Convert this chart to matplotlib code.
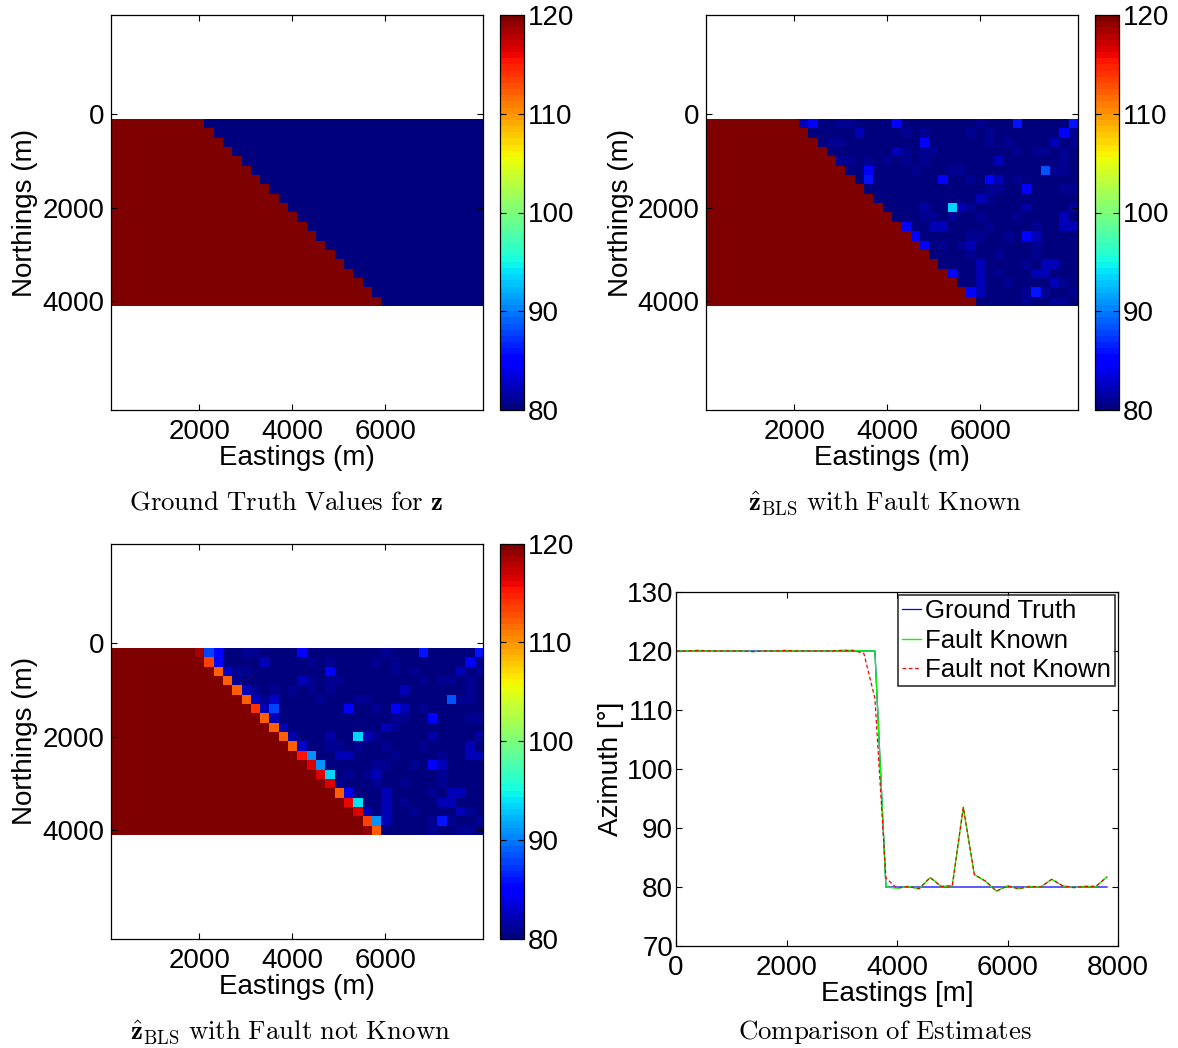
import numpy as np
import matplotlib
matplotlib.use('Agg')
import matplotlib.pyplot as plt

plt.rcParams['font.family'] = ['Liberation Sans', 'DejaVu Sans']
plt.rcParams['mathtext.fontset'] = 'cm'

# ---------------- data ----------------
HIGH, LOW = 120.0, 80.0
n_rows, n_cols = 20, 40
# number of cells on the west (high) side of the fault, per row (north -> south)
red_cells_per_row = [10, 11, 12, 13, 14, 15, 16, 17, 18, 19,
                     20, 21, 22, 23, 24, 25, 26, 27, 28, 29]

# profile along row 9 (Northing 2000 m)
profile_east = [0, 200, 400, 600, 800, 1000, 1200, 1400, 1600, 1800,
                2000, 2200, 2400, 2600, 2800, 3000, 3200, 3400, 3600, 3800,
                4000, 4200, 4400, 4600, 4800, 5000, 5200, 5400, 5600, 5800,
                6000, 6200, 6400, 6600, 6800, 7000, 7200, 7400, 7600, 7800]
ground_truth = [120, 120, 120, 120, 120, 120, 120, 120, 120, 120,
                120, 120, 120, 120, 120, 120, 120, 120, 120, 80,
                80, 80, 80, 80, 80, 80, 80, 80, 80, 80,
                80, 80, 80, 80, 80, 80, 80, 80, 80, 80]
fault_known = [120.0, 120.0, 120.1, 120.0, 120.0, 120.0, 120.0, 119.9, 120.0, 120.0,
               120.1, 120.0, 120.0, 120.0, 120.0, 120.1, 120.1, 120.0, 120.0, 80.0,
               79.8, 80.1, 79.7, 81.6, 80.1, 80.2, 93.5, 82.1, 81.0, 79.3,
               80.2, 79.7, 80.1, 80.0, 81.3, 80.2, 79.9, 80.1, 80.1, 81.7]
fault_not_known = [120.0, 120.0, 120.1, 120.0, 120.0, 120.0, 120.0, 119.9, 120.0, 120.0,
                   120.1, 120.0, 120.0, 120.0, 120.0, 120.1, 120.1, 119.6, 112.0, 81.5,
                   79.8, 80.1, 79.7, 81.6, 80.1, 80.2, 93.5, 82.1, 81.0, 79.3,
                   80.2, 79.7, 80.1, 80.0, 81.3, 80.2, 79.9, 80.1, 80.1, 81.7]
profile_row = 9

# estimated cells (row, col, value) that differ from 80 on the east side, fault known
known_cells = [
    (0, 10, 82.3), (0, 11, 84.4), (0, 14, 81.0), (0, 15, 81.0), (0, 20, 84.4), (0, 29, 81.0), (0, 33, 86.0), (0, 39, 86.0),
    (1, 16, 82.3), (1, 21, 81.0), (1, 23, 81.0), (1, 28, 81.0), (1, 30, 81.0), (1, 38, 84.4), (1, 39, 81.0),
    (2, 13, 81.0), (2, 14, 81.0), (2, 23, 84.4), (2, 30, 81.0), (2, 32, 81.0), (2, 37, 82.3), (2, 39, 81.0),
    (3, 20, 82.3), (3, 21, 81.0), (3, 23, 81.0), (3, 24, 81.0), (3, 33, 81.0), (3, 35, 81.0), (3, 36, 81.0), (3, 38, 81.0),
    (4, 14, 81.0), (4, 15, 81.0), (4, 17, 81.0), (4, 19, 81.0), (4, 21, 81.0), (4, 23, 81.0), (4, 31, 82.3), (4, 38, 81.0),
    (5, 17, 84.4), (5, 22, 81.0), (5, 26, 81.0), (5, 27, 81.0), (5, 36, 88.5), (5, 37, 81.0), (5, 38, 81.0),
    (6, 17, 86.0), (6, 25, 84.4), (6, 28, 81.0), (6, 30, 84.8), (6, 31, 82.3), (6, 33, 81.0),
    (7, 30, 81.0), (7, 31, 81.0), (7, 34, 84.4), (7, 38, 81.0), (7, 39, 81.0),
    (8, 29, 82.3), (8, 30, 81.0),
    (10, 23, 81.0), (10, 24, 81.0), (10, 26, 81.0), (10, 29, 81.0), (10, 33, 81.0), (10, 38, 82.3),
    (11, 21, 84.4), (11, 24, 82.3), (11, 25, 82.3), (11, 30, 81.0), (11, 35, 81.0), (11, 38, 82.3), (11, 39, 82.3),
    (12, 22, 84.4), (12, 28, 81.0), (12, 29, 81.0), (12, 32, 81.0), (12, 34, 84.4), (12, 35, 82.3),
    (13, 23, 84.6), (13, 25, 81.0), (13, 27, 81.0), (13, 28, 82.3), (13, 35, 81.0),
    (14, 28, 81.0), (14, 31, 81.0), (14, 35, 81.0),
    (15, 29, 82.3), (15, 34, 81.0), (15, 36, 82.3), (15, 37, 82.3),
    (16, 26, 85.5), (16, 29, 82.3), (16, 31, 81.0), (16, 35, 82.3), (16, 36, 82.3),
    (17, 29, 82.3), (17, 32, 81.0), (17, 37, 82.3), (17, 38, 81.0),
    (18, 28, 84.4), (18, 29, 82.3), (18, 34, 81.0), (18, 35, 86.0), (18, 36, 81.0), (18, 39, 81.0),
    (19, 34, 81.0), (19, 37, 81.0), (19, 38, 81.0),
]

# cells along the fault that change when the fault is not known (row, col, value)
unknown_fault_cells = [
    (0, 9, 118.2), (0, 10, 88.0), (0, 11, 84.5),
    (1, 10, 113.3), (1, 11, 84.5),
    (2, 11, 112.0), (2, 12, 83.0),
    (3, 12, 112.0), (3, 13, 81.0),
    (4, 13, 112.0), (4, 14, 82.3),
    (5, 14, 112.0), (5, 15, 82.5), (5, 16, 81.0), (5, 17, 83.0),
    (6, 15, 113.8), (6, 16, 82.3), (6, 17, 88.0),
    (7, 16, 112.0), (7, 17, 82.3),
    (8, 17, 112.0), (8, 18, 82.3),
    (10, 19, 112.0), (10, 20, 82.5),
    (11, 20, 115.3), (11, 21, 90.8),
    (12, 21, 116.3), (12, 22, 90.8),
    (13, 22, 116.8), (13, 23, 93.3),
    (14, 23, 116.3), (14, 24, 81.0),
    (15, 24, 112.0), (15, 25, 84.0),
    (16, 25, 115.8), (16, 26, 93.8),
    (17, 26, 116.3), (17, 27, 82.3),
    (18, 27, 113.3), (18, 28, 90.8),
    (19, 27, 118.8), (19, 28, 112.0),
]

# ---------------- build grids ----------------
z_true = np.full((n_rows, n_cols), LOW)
for r, n in enumerate(red_cells_per_row):
    z_true[r, :n] = HIGH

z_known = z_true.copy()
for r, c, v in known_cells:
    z_known[r, c] = v
z_known[profile_row, :] = fault_known

z_unknown = z_known.copy()
for r, c, v in unknown_fault_cells:
    z_unknown[r, c] = v
z_unknown[profile_row, :] = fault_not_known

# ---------------- figure ----------------
W, H = 1178, 1048
fig = plt.figure(figsize=(W / 100, H / 100), dpi=100)


def px_axes(l, t, r, b):
    return fig.add_axes([l / W, 1 - b / H, (r - l) / W, (b - t) / H])


cmap = plt.get_cmap('jet', 64)
FS = 20
TFS = 19.3


def style_axes(ax, ypad=4.5):
    for s in ax.spines.values():
        s.set_linewidth(0.9)
        s.set_color('black')
    ax.tick_params(direction='in', top=True, right=True, labelsize=FS,
                   length=4, width=0.8)
    ax.tick_params(axis='x', pad=6.5)
    ax.tick_params(axis='y', pad=ypad)


def image_panel(box, cbox, data, title, txy):
    ax = px_axes(*box)
    im = ax.imshow(data, cmap=cmap, vmin=80, vmax=120, interpolation='nearest',
                   extent=(100, 8100, 4100, 100), aspect='auto')
    ax.set_xlim(100, 8100)
    ax.set_ylim(6331, -2131)
    ax.set_xticks([2000, 4000, 6000])
    ax.set_yticks([0, 2000, 4000])
    style_axes(ax, ypad=4.5)
    ax.set_xlabel('Eastings (m)', fontsize=FS, labelpad=0)
    ax.set_ylabel('Northings (m)', fontsize=FS, labelpad=3)
    cax = px_axes(*cbox)
    cb = fig.colorbar(im, cax=cax, ticks=[80, 90, 100, 110, 120])
    cb.outline.set_linewidth(0.9)
    cax.tick_params(direction='in', left=True, right=True, labelsize=FS,
                    length=4, width=0.8, pad=3)
    fig.text(txy[0] / W, 1 - txy[1] / H, title, ha='center', va='center', fontsize=TFS)
    return ax


image_panel((110.7, 15, 483, 410), (500, 15, 523.5, 410), z_true,
            r'$\mathrm{Ground\ Truth\ Values\ for\ }\mathbf{z}$', (286, 503))
image_panel((706, 15, 1078, 410), (1095, 15, 1118.5, 410), z_known,
            r'$\hat{\mathbf{z}}_{\mathrm{BLS}}\mathrm{\ with\ Fault\ Known}$', (885, 503))
image_panel((110.7, 543.7, 483, 938.7), (500, 543.7, 523.5, 938.7), z_unknown,
            r'$\hat{\mathbf{z}}_{\mathrm{BLS}}\mathrm{\ with\ Fault\ not\ Known}$', (290, 1032))

ax4 = px_axes(676, 592, 1118, 946)
ax4.plot(profile_east, ground_truth, color='blue', lw=0.9, label='Ground Truth')
ax4.plot(profile_east, fault_known, color='#00ff00', lw=1.0, label='Fault Known')
ax4.plot(profile_east, fault_not_known, color='red', lw=0.9, ls=(0, (3, 2)),
         label='Fault not Known')
ax4.set_xlim(0, 8000)
ax4.set_ylim(70, 130)
ax4.set_xticks([0, 2000, 4000, 6000, 8000])
ax4.set_yticks([70, 80, 90, 100, 110, 120, 130])
style_axes(ax4, ypad=2)
ax4.set_xlabel('Eastings [m]', fontsize=FS, labelpad=0)
ax4.set_ylabel('Azimuth [°]', fontsize=FS, labelpad=2)
leg = ax4.legend(loc='upper right', fontsize=18.5, frameon=True, fancybox=False,
                 handlelength=0.75, handletextpad=0.15, labelspacing=0.22,
                 borderpad=0.15, borderaxespad=0.12)
leg.get_frame().set_edgecolor('black')
leg.get_frame().set_linewidth(1.2)
fig.text(885 / W, 1 - 1032 / H, r'$\mathrm{Comparison\ of\ Estimates}$',
         ha='center', va='center', fontsize=TFS)

fig.savefig('out.png', dpi=100)
